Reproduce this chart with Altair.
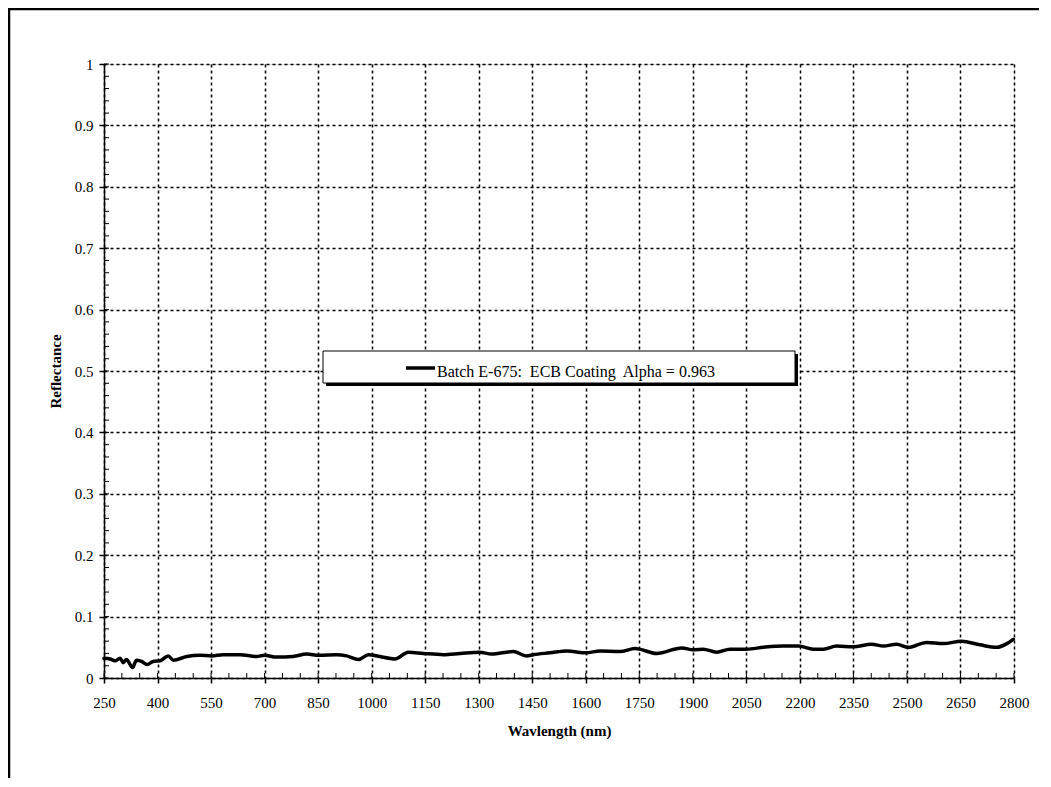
import altair as alt
import pandas as pd

WAVELENGTH = [250, 267, 281, 295, 304, 313, 330, 341, 355, 371, 388, 407, 430, 444, 482, 519,
              552, 583, 631, 677, 700, 733, 780, 818, 853, 902, 930, 963, 991, 1023, 1065, 1103,
              1145, 1201, 1248, 1302, 1336, 1397, 1434, 1453, 1500, 1547, 1601, 1640, 1696, 1738,
              1799, 1869, 1901, 1929, 1967, 2004, 2051, 2098, 2153, 2196, 2238, 2266, 2303, 2350,
              2401, 2434, 2471, 2504, 2555, 2602, 2653, 2705, 2752, 2780, 2798]
REFLECTANCE = [0.032, 0.031, 0.028, 0.032, 0.025, 0.030, 0.017, 0.029, 0.027, 0.022, 0.027, 0.028,
               0.036, 0.029, 0.035, 0.037, 0.036, 0.038, 0.038, 0.035, 0.037, 0.034, 0.035, 0.039,
               0.037, 0.038, 0.036, 0.030, 0.038, 0.035, 0.031, 0.042, 0.040, 0.038, 0.040, 0.042,
               0.039, 0.043, 0.036, 0.038, 0.041, 0.044, 0.041, 0.044, 0.043, 0.048, 0.040, 0.049,
               0.046, 0.047, 0.042, 0.047, 0.047, 0.050, 0.052, 0.052, 0.047, 0.047, 0.052, 0.051,
               0.055, 0.052, 0.055, 0.050, 0.058, 0.056, 0.060, 0.054, 0.050, 0.056, 0.063]

X_TICKS = [250, 400, 550, 700, 850, 1000, 1150, 1300, 1450, 1600, 1750, 1900, 2050, 2200,
           2350, 2500, 2650, 2800]
X_MINOR = list(range(250, 2801, 50))
Y_TICKS = [0, 0.1, 0.2, 0.3, 0.4, 0.5, 0.6, 0.7, 0.8, 0.9, 1.0]
Y_MINOR = [round(i * 0.02, 2) for i in range(0, 51)]

X_TITLE = "Wavlength (nm)"
Y_TITLE = "Reflectance"
LEGEND_LABEL = "Batch E-675:\u00a0 ECB Coating\u00a0 Alpha = 0.963"

FONT = "Liberation Serif"
W, H = 910, 614

curve = pd.DataFrame({"wl": WAVELENGTH, "refl": REFLECTANCE})

xscale = alt.Scale(domain=[250, 2800], nice=False)
yscale = alt.Scale(domain=[0, 1], nice=False)

xaxis = alt.Axis(values=X_TICKS, format="d", title=X_TITLE, grid=True, gridColor="black",
                 gridDash=[3, 3], gridWidth=1.5, gridOpacity=1, tickSize=5, tickColor="black",
                 tickWidth=1.5, domainColor="black", domainWidth=1.5, labelFont=FONT,
                 labelFontSize=15, labelColor="black", labelPadding=12, labelFlush=False,
                 labelOverlap=False, titleFont=FONT, titleFontSize=15, titleFontWeight="bold",
                 titleColor="black", titlePadding=13)
yaxis = alt.Axis(values=Y_TICKS, format=".1~f", title=Y_TITLE, grid=True, gridColor="black",
                 gridDash=[3, 3], gridWidth=1.5, gridOpacity=1, tickSize=5, tickColor="black",
                 tickWidth=1.5, domainColor="black", domainWidth=1.5, labelFont=FONT,
                 labelFontSize=15, labelColor="black", labelPadding=6, labelFlush=False,
                 labelOverlap=False, titleFont=FONT, titleFontSize=15, titleFontWeight="bold",
                 titleColor="black", titlePadding=11)

line = alt.Chart(curve).mark_line(color="black", strokeWidth=3.5, interpolate="monotone",
                                  strokeJoin="round", strokeCap="round").encode(
    x=alt.X("wl:Q", scale=xscale, axis=xaxis),
    y=alt.Y("refl:Q", scale=yscale, axis=yaxis),
)

xminor = alt.Chart(pd.DataFrame({"m": X_MINOR})).mark_rule(color="black", strokeWidth=1).encode(
    x=alt.X("m:Q", scale=xscale, axis=xaxis),
    y=alt.value(H), y2=alt.value(H - 5),
)
yminor = alt.Chart(pd.DataFrame({"m": Y_MINOR})).mark_rule(color="black", strokeWidth=1).encode(
    y=alt.Y("m:Q", scale=yscale, axis=yaxis),
    x=alt.value(0), x2=alt.value(5),
)

one = pd.DataFrame({"label": [LEGEND_LABEL]})
# legend box (with shadow)
shadow = alt.Chart(one).mark_rect(color="black").encode(
    x=alt.value(222), x2=alt.value(694), y=alt.value(290), y2=alt.value(322))
box = alt.Chart(one).mark_rect(fill="white", stroke="black", strokeWidth=1).encode(
    x=alt.value(219), x2=alt.value(691), y=alt.value(287), y2=alt.value(319))
sample = alt.Chart(one).mark_rule(color="black", strokeWidth=3.5).encode(
    x=alt.value(302), x2=alt.value(331), y=alt.value(304))
label = alt.Chart(one).mark_text(font=FONT, fontSize=16, align="left", baseline="alphabetic",
                                 color="black").encode(
    x=alt.value(333), y=alt.value(313), text="label:N")

# outer frame
frame = alt.Chart(one).mark_rect(fill=None, fillOpacity=0, stroke="black", strokeWidth=2.5).encode(
    x=alt.value(-95), x2=alt.value(990), y=alt.value(-55), y2=alt.value(760))

chart = alt.layer(line, xminor, yminor, frame, shadow, box, sample, label).properties(
    width=W, height=H,
    autosize=alt.AutoSizeParams(type="none"),
    padding={"left": 96, "top": 56, "right": 25, "bottom": 100},
).configure_view(stroke="#808080", strokeWidth=2).configure(background="white")

chart.save("out.html", embed_options={"renderer": "svg", "actions": False})
